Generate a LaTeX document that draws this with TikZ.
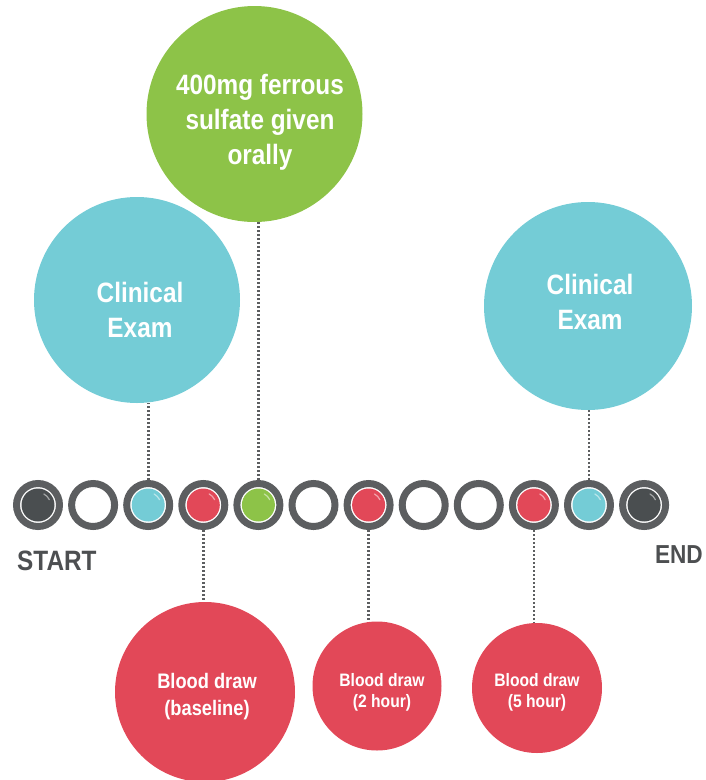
\documentclass[tikz,border=0pt]{standalone}
\usepackage{fontspec}
\setmainfont{Liberation Sans}[FakeStretch=0.87]
\usepackage{tikz}

\definecolor{examblue}{HTML}{74CCD6}
\definecolor{dosegreen}{HTML}{8DC348}
\definecolor{bloodred}{HTML}{E24858}
\definecolor{endgray}{HTML}{4A4E50}
\definecolor{ringgray}{HTML}{5C5E60}
\definecolor{labelgray}{HTML}{4D4F51}

\begin{document}
\begin{tikzpicture}[x=1pt,y=-1pt,
    ring/.style={circle,draw=ringgray,line width=7pt,fill=white,minimum size=43pt,inner sep=0pt},
    bigdot/.style 2 args={circle,fill=#1,minimum size=#2,inner sep=0pt},
    bigtext/.style={text=white,align=center,font=\bfseries\fontsize{28}{35}\selectfont},
    midtext/.style={text=white,align=center,font=\bfseries\fontsize{21}{27}\selectfont},
    smalltext/.style={text=white,align=center,font=\bfseries\fontsize{18}{21}\selectfont},
    endlabel/.style={text=labelgray,font=\bfseries\fontsize{26}{30}\selectfont,inner sep=0pt},
    dotline/.style={draw=ringgray,line width=2.8pt,dash pattern=on 2.4pt off 1.6pt}]
    \useasboundingbox (0,0) rectangle (706,780);

    % timeline
    \foreach \i/\c in {1/endgray,2/white,3/examblue,4/bloodred,5/dosegreen,6/white,
                       7/bloodred,8/white,9/white,10/bloodred,11/examblue,12/endgray}{
        \node[ring] (t\i) at ({38+55.1*(\i-1)},505) {};
        \fill[\c] (t\i) circle (16.5pt);
        \draw[white,opacity=.5,line width=1.2pt,line cap=round] (t\i) ++(25:12.5pt) arc (25:62:12.5pt);
    }
    \node[endlabel,anchor=base west,font=\bfseries\fontsize{28}{30}\selectfont] (start) at (17,570) {START};
    \node[endlabel,anchor=base east] (end) at (703,563) {END};

    % events above
    \node[bigdot={examblue}{206pt}] (examA) at (137,300) {};
    \node[bigtext] (examAtext) at (140,310) {Clinical\\Exam};
    \node[bigdot={dosegreen}{216pt}] (dose) at (254.5,114) {};
    \node[bigtext] (dosetext) at (260,122) {400mg ferrous\\sulfate given\\orally};
    \node[bigdot={examblue}{208pt}] (examB) at (588,306) {};
    \node[bigtext] (examBtext) at (590,302) {Clinical\\Exam};

    % blood draws below
    \node[bigdot={bloodred}{180pt}] (bloodA) at (205,692) {};
    \node[midtext] (bloodAtext) at (207,697) {Blood draw\\(baseline)};
    \node[bigdot={bloodred}{129pt}] (bloodB) at (377,686) {};
    \node[smalltext] (bloodBtext) at (382,692) {Blood draw\\(2 hour)};
    \node[bigdot={bloodred}{130pt}] (bloodC) at (537,688) {};
    \node[smalltext] (bloodCtext) at (537,692) {Blood draw\\(5 hour)};

    \draw[dotline] (t3.north) -- (t3.north |- examA.south);
    \draw[dotline] (t5.north) -- (t5.north |- dose.south);
    \draw[dotline] (t11.north) -- (t11.north |- examB.south);
    \draw[dotline] (t4.south) -- (t4.south |- bloodA.north);
    \draw[dotline] (t7.south) -- (t7.south |- bloodB.north);
    \draw[dotline] (t10.south) -- (t10.south |- bloodC.north);
\end{tikzpicture}
\end{document}
